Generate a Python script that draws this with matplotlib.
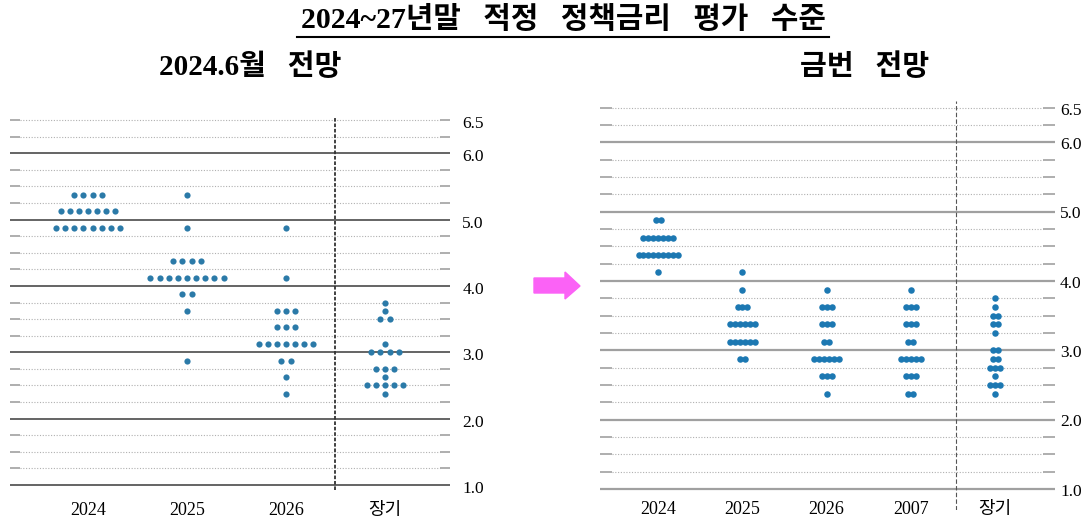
import numpy as np
import matplotlib.pyplot as plt
from matplotlib.patches import Polygon

plt.rcParams['font.family'] = ['Liberation Serif', 'Noto Sans CJK KR', 'DejaVu Sans']

# 2024.6월 전망 (left panel)
left_cats = ['2024', '2025', '2026', '장기']
jun_2024_rates = [5.375, 5.125, 4.875]
jun_2024_counts = [4, 7, 8]
jun_2025_rates = [5.375, 4.875, 4.375, 4.125, 3.875, 3.625, 2.875]
jun_2025_counts = [1, 1, 4, 9, 2, 1, 1]
jun_2026_rates = [4.875, 4.125, 3.625, 3.375, 3.125, 2.875, 2.625, 2.375]
jun_2026_counts = [1, 1, 3, 3, 7, 2, 1, 1]
jun_lr_rates = [3.75, 3.625, 3.5, 3.125, 3.0, 2.75, 2.625, 2.5, 2.375]
jun_lr_counts = [1, 1, 2, 1, 4, 3, 1, 5, 1]

# 금번 전망 (right panel)
right_cats = ['2024', '2025', '2026', '2007', '장기']
now_2024_rates = [4.875, 4.625, 4.375, 4.125]
now_2024_counts = [2, 7, 9, 1]
now_2025_rates = [4.125, 3.875, 3.625, 3.375, 3.125, 2.875]
now_2025_counts = [1, 1, 3, 6, 6, 2]
now_2026_rates = [3.875, 3.625, 3.375, 3.125, 2.875, 2.625, 2.375]
now_2026_counts = [1, 3, 3, 2, 6, 3, 1]
now_2027_rates = [3.875, 3.625, 3.375, 3.125, 2.875, 2.625, 2.375]
now_2027_counts = [1, 3, 3, 2, 5, 3, 2]
now_lr_rates = [3.75, 3.625, 3.5, 3.375, 3.25, 3.0, 2.875, 2.75, 2.625, 2.5, 2.375]
now_lr_counts = [1, 1, 2, 2, 1, 2, 2, 3, 1, 3, 1]

y_labels = ['6.5', '6.0', '5.0', '4.0', '3.0', '2.0', '1.0']

W, H = 1091, 524
fig = plt.figure(figsize=(W / 100, H / 100), dpi=100)


def px_axes(x0, x1, ytop, ybot):
    return fig.add_axes([x0 / W, 1 - ybot / H, (x1 - x0) / W, (ybot - ytop) / H])


def draw_grid(ax, x0, x1, stub, major_c, major_lw):
    for v in np.arange(1.0, 6.51, 0.25):
        if v == int(v):
            ax.hlines(v, x0, x1, color=major_c, lw=major_lw, zorder=1)
        else:
            ax.hlines(v, x0 + stub, x1 - stub, color='#b0b0b0', lw=0.8,
                      linestyles=(0, (1, 1.5)), zorder=1)
            ax.hlines(v, x0, x0 + stub, color='#a8a8a8', lw=1.3, zorder=1)
            ax.hlines(v, x1 - stub, x1, color='#a8a8a8', lw=1.3, zorder=1)


def draw_dots(ax, i, rates, counts, step, size, color):
    for r, n in zip(rates, counts):
        xs = i + (np.arange(n) - (n - 1) / 2) * step
        ax.scatter(xs, [r] * n, s=size, color=color, lw=0, zorder=3)


# ---- left panel ----
axl = px_axes(10, 450, 116.7, 490.3)
axl.set_xlim(-0.788, 3.657)
axl.set_ylim(0.92, 6.55)
axl.axis('off')
draw_grid(axl, -0.788, 3.657, 0.1, '#4a4a4a', 1.2)
axl.axvline(2.5, color='#333333', lw=1.3, ls=(0, (2, 1)), zorder=2)
c_l = '#2b7aa8'
for i, (r, n) in enumerate([(jun_2024_rates, jun_2024_counts),
                            (jun_2025_rates, jun_2025_counts),
                            (jun_2026_rates, jun_2026_counts),
                            (jun_lr_rates, jun_lr_counts)]):
    draw_dots(axl, i, r, n, 0.0923, 20, c_l)
for i, c in enumerate(left_cats):
    axl.text(i, 0.62, c, ha='center', va='center', fontsize=13, clip_on=False)
for t in y_labels:
    axl.text(3.78, float(t) - 0.06, t, ha='left', va='center', fontsize=12.5,
             clip_on=False)

# ---- right panel ----
axr = px_axes(600, 1055, 100.8, 509.8)
axr.set_xlim(-0.69, 4.71)
axr.set_ylim(0.70, 6.6)
axr.axis('off')
draw_grid(axr, -0.69, 4.71, 0.14, '#a0a0a0', 1.6)
axr.axvline(3.53, color='#555555', lw=0.8, ls=(0, (4, 2)), zorder=2)
c_r = '#1c78b2'
for i, (r, n) in enumerate([(now_2024_rates, now_2024_counts),
                            (now_2025_rates, now_2025_counts),
                            (now_2026_rates, now_2026_counts),
                            (now_2027_rates, now_2027_counts),
                            (now_lr_rates, now_lr_counts)]):
    draw_dots(axr, i, r, n, 0.058, 22, c_r)
for i, c in enumerate(right_cats):
    axr.text(i, 0.70, c, ha='center', va='center', fontsize=13, clip_on=False)
for t in y_labels:
    axr.text(4.77, float(t) - 0.04, t, ha='left', va='center', fontsize=12.5,
             clip_on=False)

# ---- titles ----
title = fig.text(563 / W, 1 - 20 / H, '2024~27년말   적정   정책금리   평가   수준',
                 ha='center', va='center', fontsize=21.5, fontweight='bold')
fig.text(250 / W, 1 - 67 / H, '2024.6월   전망', ha='center', va='center',
         fontsize=21, fontweight='bold')
fig.text(865 / W, 1 - 67 / H, '금번   전망', ha='center', va='center',
         fontsize=21, fontweight='bold')

fig.canvas.draw()
bb = title.get_window_extent().transformed(fig.transFigure.inverted())
fig.add_artist(plt.Line2D([bb.x0 - 0.003, bb.x1 + 0.003], [1 - 37 / H, 1 - 37 / H],
                          color='black', lw=1.5, transform=fig.transFigure))

# ---- arrow ----
arrow_px = [(534, 278), (565, 278), (565, 272), (580, 286), (565, 299),
            (565, 293), (534, 293)]
fig.add_artist(Polygon([(x / W, 1 - y / H) for x, y in arrow_px], closed=True,
                       color='#fb62f6', transform=fig.transFigure))

fig.savefig('out.png', dpi=100)
